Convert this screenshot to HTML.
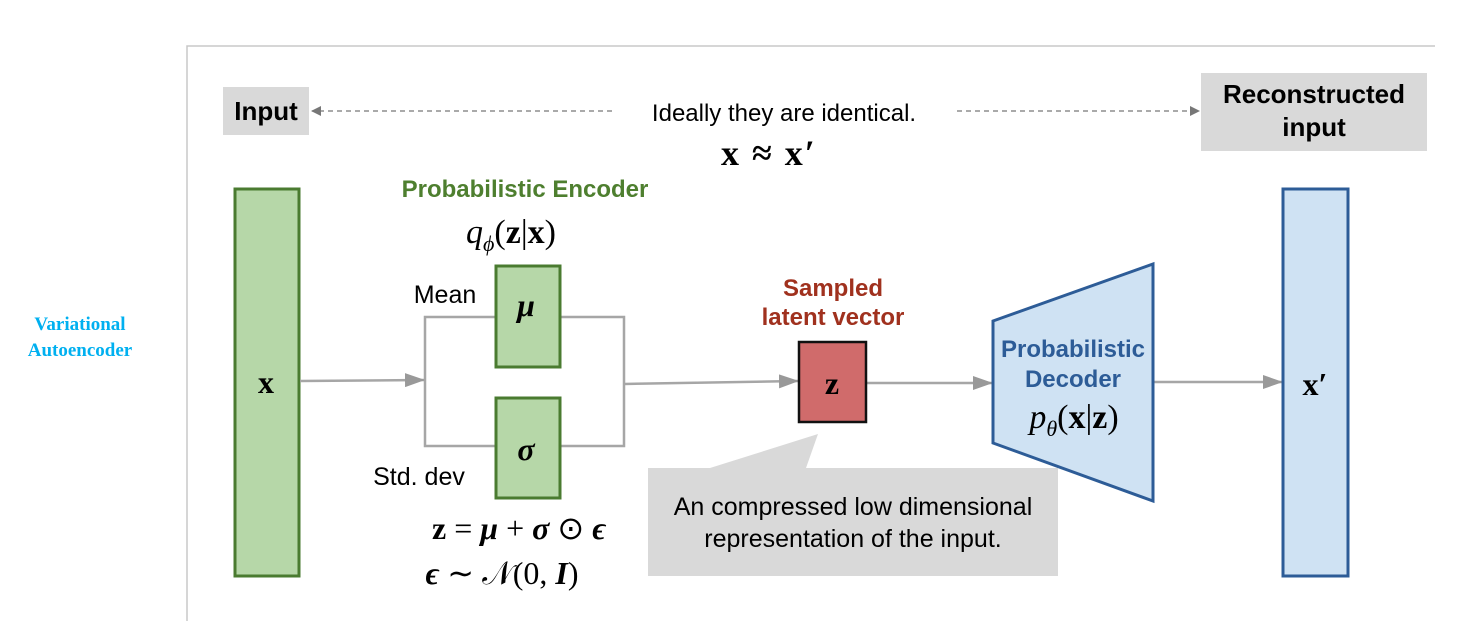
<!DOCTYPE html>
<html><head><meta charset="utf-8"><style>
html,body{margin:0;padding:0;background:#fff;}
svg text{font-family:"Liberation Sans",sans-serif;}
.m{font-family:"Liberation Serif",serif;}
</style></head><body>
<svg width="1469" height="621" viewBox="0 0 1469 621" xmlns="http://www.w3.org/2000/svg">
<defs>
<marker id="ga" markerWidth="10" markerHeight="10" refX="9" refY="5" orient="auto" markerUnits="userSpaceOnUse"><path d="M0,0 L10,5 L0,10 z" fill="#777"/></marker>
<marker id="big" markerWidth="20" markerHeight="14" refX="19" refY="7" orient="auto" markerUnits="userSpaceOnUse"><path d="M0,0 L20,7 L0,14 z" fill="#999"/></marker>
</defs>
<path d="M187,621 L187,46 L1435,46" fill="none" stroke="#c8c8c8" stroke-width="1.5"/>
<text x="80" y="330" text-anchor="middle" class="m" font-size="19" font-weight="bold" fill="#00b0f0">Variational</text>
<text x="80" y="356" text-anchor="middle" class="m" font-size="19" font-weight="bold" fill="#00b0f0">Autoencoder</text>
<rect x="223" y="87" width="86" height="48" fill="#d9d9d9"/>
<text x="266" y="120" text-anchor="middle" font-size="26" font-weight="bold">Input</text>
<line x1="612" y1="111" x2="312" y2="111" stroke="#777" stroke-width="1.3" stroke-dasharray="5,4" marker-end="url(#ga)"/>
<line x1="957" y1="111" x2="1199" y2="111" stroke="#777" stroke-width="1.3" stroke-dasharray="5,4" marker-end="url(#ga)"/>
<text x="784" y="121" text-anchor="middle" font-size="24">Ideally they are identical.</text>
<text x="769" y="165" text-anchor="middle" class="m" font-size="36" font-weight="bold" letter-spacing="2">x ≈ x′</text>
<rect x="1201" y="73" width="226" height="78" fill="#d9d9d9"/>
<text x="1314" y="103" text-anchor="middle" font-size="26" font-weight="bold">Reconstructed</text>
<text x="1314" y="136" text-anchor="middle" font-size="26" font-weight="bold">input</text>
<rect x="235" y="189" width="64" height="387" fill="#b6d7a8" stroke="#4a7b30" stroke-width="3"/>
<text x="266" y="393" text-anchor="middle" class="m" font-size="32" font-weight="bold">x</text>
<text x="525" y="197" text-anchor="middle" font-size="24" font-weight="bold" fill="#4e7f2f">Probabilistic Encoder</text>
<text x="511" y="243" text-anchor="middle" class="m" font-size="34"><tspan font-style="italic">q</tspan><tspan font-size="22" font-style="italic" dy="8">ϕ</tspan><tspan dy="-8">(</tspan><tspan font-weight="bold">z</tspan>|<tspan font-weight="bold">x</tspan>)</text>
<text x="445" y="303" text-anchor="middle" font-size="25">Mean</text>
<text x="419" y="485" text-anchor="middle" font-size="25">Std. dev</text>
<g stroke="#a6a6a6" stroke-width="2.5" fill="none">
<path d="M496,317 H425 V446 H496"/>
<path d="M560,317 H624 V446 H560"/>
<line x1="300" y1="381" x2="424" y2="380" marker-end="url(#big)"/>
<line x1="624" y1="384" x2="798" y2="381" marker-end="url(#big)"/>
<line x1="866" y1="383" x2="992" y2="383" marker-end="url(#big)"/>
<line x1="1154" y1="382" x2="1282" y2="382" marker-end="url(#big)"/>
</g>
<rect x="496" y="266" width="64" height="101" fill="#b6d7a8" stroke="#4a7b30" stroke-width="3"/>
<text x="526" y="316" text-anchor="middle" class="m" font-size="32" font-weight="bold" font-style="italic">μ</text>
<rect x="496" y="398" width="64" height="100" fill="#b6d7a8" stroke="#4a7b30" stroke-width="3"/>
<text x="526" y="460" text-anchor="middle" class="m" font-size="32" font-weight="bold" font-style="italic">σ</text>
<text x="519" y="539" text-anchor="middle" class="m" font-size="32"><tspan font-weight="bold">z</tspan> = <tspan font-weight="bold" font-style="italic">μ</tspan> + <tspan font-weight="bold" font-style="italic">σ</tspan> ⊙ <tspan font-weight="bold" font-style="italic">ϵ</tspan></text>
<text x="502" y="584" text-anchor="middle" class="m" font-size="32"><tspan font-weight="bold" font-style="italic">ϵ</tspan> ∼ 𝒩(0, <tspan font-weight="bold" font-style="italic">I</tspan>)</text>
<text x="833" y="296" text-anchor="middle" font-size="24" font-weight="bold" fill="#a0311e">Sampled</text>
<text x="833" y="325" text-anchor="middle" font-size="24" font-weight="bold" fill="#a0311e">latent vector</text>
<rect x="799" y="342" width="67" height="80" fill="#d06b6b" stroke="#111" stroke-width="2.5"/>
<text x="832" y="394" text-anchor="middle" class="m" font-size="32" font-weight="bold">z</text>
<path d="M648,468 L710,468 L818,434 L806,468 L1058,468 L1058,576 L648,576 z" fill="#d9d9d9"/>
<text x="853" y="515" text-anchor="middle" font-size="25">An compressed low dimensional</text>
<text x="853" y="547" text-anchor="middle" font-size="25">representation of the input.</text>
<path d="M993,321 L1153,264 L1153,501 L993,443 z" fill="#cfe2f3" stroke="#2d5c97" stroke-width="3"/>
<text x="1073" y="357" text-anchor="middle" font-size="24" font-weight="bold" fill="#2d5c97">Probabilistic</text>
<text x="1073" y="387" text-anchor="middle" font-size="24" font-weight="bold" fill="#2d5c97">Decoder</text>
<text x="1074" y="428" text-anchor="middle" class="m" font-size="34"><tspan font-style="italic">p</tspan><tspan font-size="22" font-style="italic" dy="8">θ</tspan><tspan dy="-8">(</tspan><tspan font-weight="bold">x</tspan>|<tspan font-weight="bold">z</tspan>)</text>
<rect x="1283" y="189" width="65" height="387" fill="#cfe2f3" stroke="#2d5c97" stroke-width="3"/>
<text x="1315" y="395" text-anchor="middle" class="m" font-size="32" font-weight="bold">x′</text>
</svg>
</body></html>
